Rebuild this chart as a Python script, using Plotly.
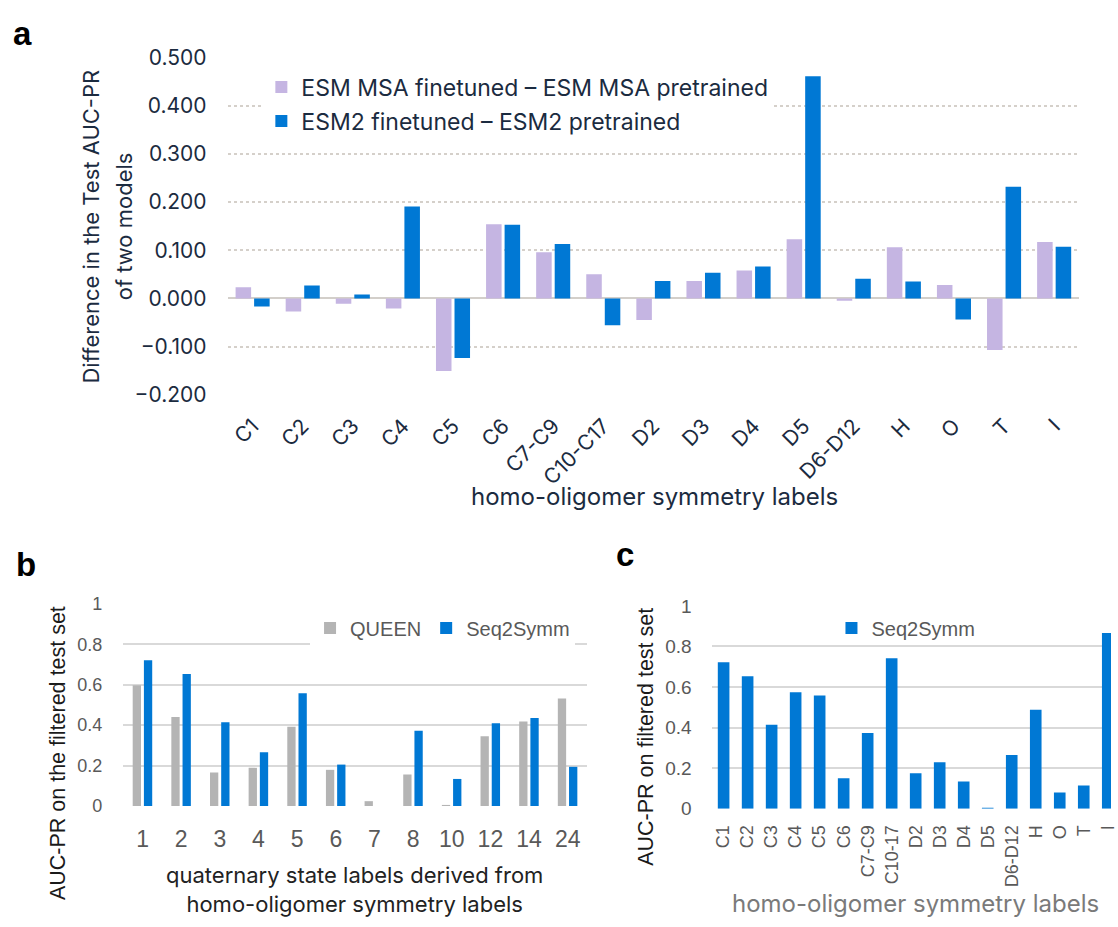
import plotly.graph_objects as go

W, H = 1118, 927

# ---------------- data ----------------
a_labels = ["C1", "C2", "C3", "C4", "C5", "C6", "C7-C9", "C10-C17", "D2", "D3",
            "D4", "D5", "D6-D12", "H", "O", "T", "I"]
a_msa = [0.023, -0.027, -0.011, -0.021, -0.151, 0.154, 0.096, 0.050, -0.045, 0.036,
         0.058, 0.123, -0.005, 0.106, 0.028, -0.107, 0.117]
a_esm2 = [-0.017, 0.027, 0.008, 0.191, -0.124, 0.153, 0.113, -0.056, 0.036, 0.053,
          0.066, 0.461, 0.041, 0.035, -0.044, 0.232, 0.107]
a_yticks = [-0.2, -0.1, 0.0, 0.1, 0.2, 0.3, 0.4, 0.5]

b_labels = ["1", "2", "3", "4", "5", "6", "7", "8", "10", "12", "14", "24"]
b_queen = [0.597, 0.440, 0.166, 0.189, 0.392, 0.179, 0.024, 0.156, 0.005, 0.345, 0.418, 0.532]
b_seq2symm = [0.721, 0.653, 0.415, 0.266, 0.558, 0.205, 0.0, 0.373, 0.134, 0.410, 0.435, 0.194]

c_labels = ["C1", "C2", "C3", "C4", "C5", "C6", "C7-C9", "C10-17", "D2", "D3", "D4",
            "D5", "D6-D12", "H", "O", "T", "I"]
c_seq2symm = [0.722, 0.653, 0.414, 0.574, 0.558, 0.150, 0.373, 0.742, 0.174, 0.229, 0.134,
              0.003, 0.264, 0.488, 0.080, 0.114, 0.866]
bc_yticks = [0, 0.2, 0.4, 0.6, 0.8, 1.0]
bc_yticktext = ["0", "0.2", "0.4", "0.6", "0.8", "1"]

# ---------------- style ----------------
LAV = "#C5B5E2"
BLUE = "#0078D4"
GRAY = "#B4B4B4"
NAVY = "#1B2B40"
TICKGRAY = "#595959"
APTOS = "Inter, 'Open Sans', sans-serif"
ARIAL = "'Liberation Sans', Arial, sans-serif"


def px(x):
    return x / W


def py(y):
    return 1 - y / H


fig = go.Figure()

# panel a
fig.add_trace(go.Bar(x=a_labels, y=a_msa, name="ESM MSA finetuned – ESM MSA pretrained",
                     marker=dict(color=LAV, line=dict(width=0)), width=0.31, offset=-0.34,
                     xaxis="x", yaxis="y", legend="legend", legendgroup="a1"))
fig.add_trace(go.Bar(x=a_labels, y=a_esm2, name="ESM2 finetuned – ESM2 pretrained",
                     marker=dict(color=BLUE, line=dict(width=0)), width=0.31, offset=0.03,
                     xaxis="x", yaxis="y", legend="legend", legendgroup="a2"))

# panel b
fig.add_trace(go.Bar(x=b_labels, y=b_queen, name="QUEEN",
                     marker=dict(color=GRAY, line=dict(width=0)), width=0.215, offset=-0.255,
                     xaxis="x2", yaxis="y2", legend="legend2"))
fig.add_trace(go.Bar(x=b_labels, y=b_seq2symm, name="Seq2Symm",
                     marker=dict(color=BLUE, line=dict(width=0)), width=0.215, offset=0.035,
                     xaxis="x2", yaxis="y2", legend="legend2"))

# panel c
fig.add_trace(go.Bar(x=c_labels, y=c_seq2symm, name="Seq2Symm",
                     marker=dict(color=BLUE, line=dict(width=0)), width=0.484, offset=-0.242,
                     xaxis="x3", yaxis="y3", legend="legend3"))

fig.update_layout(
    width=W, height=H, autosize=False,
    margin=dict(l=0, r=0, t=0, b=0),
    paper_bgcolor="white", plot_bgcolor="white",
    barmode="group",
    font=dict(family=APTOS, color=NAVY),
    xaxis=dict(domain=[px(229), px(1086)], type="category", range=[-0.5, 16.5],
               tickangle=-45, tickfont=dict(family=APTOS, size=21, color=NAVY),
               ticklabelstandoff=14, showgrid=False, zeroline=False, showline=False,
               ticks="", anchor="y"),
    yaxis=dict(domain=[py(392.3), py(45.8)], range=[-0.2, 0.5], tickvals=a_yticks,
               tickformat=".3f", tickfont=dict(family=APTOS, size=21, color=NAVY),
               showgrid=True, gridcolor="#D5D0CA", gridwidth=1.5, griddash="dot",
               zeroline=True, zerolinecolor="#D3CFCA", zerolinewidth=2,
               ticklabelstandoff=20, anchor="x", showline=False),
    xaxis2=dict(domain=[px(124), px(590.7)], type="category", range=[-0.5, 11.5],
                tickfont=dict(family=ARIAL, size=23, color=TICKGRAY),
                ticklabelstandoff=17, showgrid=False, zeroline=False, ticks="",
                anchor="y2"),
    yaxis2=dict(domain=[py(815), py(607.3)], range=[0, 1.0], tickvals=bc_yticks,
                ticktext=bc_yticktext, tickfont=dict(family=ARIAL, size=18, color=TICKGRAY),
                showgrid=True, gridcolor="#D9D9D9", gridwidth=1.5, zeroline=False,
                ticklabelstandoff=20, anchor="x2"),
    xaxis3=dict(domain=[px(716.1), 1.0], type="category", range=[-0.5, 16.135],
                tickangle=-90, tickfont=dict(family=ARIAL, size=18, color=TICKGRAY),
                ticklabelstandoff=12, showgrid=False, zeroline=False, ticks="",
                anchor="y3"),
    yaxis3=dict(domain=[py(817.7), py(609.3)], range=[0, 1.0], tickvals=bc_yticks,
                ticktext=bc_yticktext, tickfont=dict(family=ARIAL, size=19, color=TICKGRAY),
                showgrid=True, gridcolor="#D9D9D9", gridwidth=1.5, zeroline=False,
                ticklabelstandoff=19, anchor="x3"),
    legend=dict(x=px(263), y=py(54), xanchor="left", yanchor="top", bgcolor="white",
                font=dict(family=APTOS, size=23, color=NAVY), traceorder="grouped",
                tracegroupgap=1, borderwidth=0),
    legend2=dict(x=px(312), y=py(632), xanchor="left", yanchor="middle", bgcolor="white",
                 orientation="h", font=dict(family=ARIAL, size=20, color=TICKGRAY),
                 borderwidth=0),
    legend3=dict(x=px(836.7), y=py(632), xanchor="left", yanchor="middle",
                 bgcolor="rgba(255,255,255,0)", orientation="h",
                 font=dict(family=ARIAL, size=20, color=TICKGRAY), borderwidth=0),
)

annotations = [
    # panel letters
    dict(text="<b>a</b>", x=px(11), y=py(21), xanchor="left", yanchor="middle",
         font=dict(family=ARIAL, size=33, color="black")),
    dict(text="<b>b</b>", x=px(14), y=py(567), xanchor="left", yanchor="middle",
         font=dict(family=ARIAL, size=33, color="black")),
    dict(text="<b>c</b>", x=px(618), y=py(557), xanchor="left", yanchor="middle",
         font=dict(family=ARIAL, size=33, color="black")),
    # panel a axis titles
    dict(text="Difference in the Test AUC-PR", x=px(92), y=py(219), textangle=-90,
         xanchor="center", yanchor="middle", font=dict(family=APTOS, size=22, color=NAVY)),
    dict(text="of two models", x=px(125), y=py(219), textangle=-90,
         xanchor="center", yanchor="middle", font=dict(family=APTOS, size=22, color=NAVY)),
    dict(text="homo-oligomer symmetry labels", x=px(659), y=py(497),
         xanchor="center", yanchor="middle", font=dict(family=APTOS, size=24, color=NAVY)),
    # panel b axis titles
    dict(text="AUC-PR on the filtered test set", x=px(59), y=py(761), textangle=-90,
         xanchor="center", yanchor="middle", font=dict(family=ARIAL, size=21.5, color="#1A1A1A")),
    dict(text="quaternary state labels derived from<br>homo-oligomer symmetry labels",
         x=px(357), y=py(901), xanchor="center", yanchor="middle",
         font=dict(family=APTOS, size=22, color="#222222")),
    # panel c axis titles
    dict(text="AUC-PR on filtered test set", x=px(650), y=py(744), textangle=-90,
         xanchor="center", yanchor="middle", font=dict(family=ARIAL, size=21.5, color="#1A1A1A")),
    dict(text="homo-oligomer symmetry labels", x=px(921.5), y=py(915),
         xanchor="center", yanchor="middle", font=dict(family=APTOS, size=24, color="#7A7A7A")),
]
for a in annotations:
    a.update(xref="paper", yref="paper", showarrow=False)
fig.update_layout(annotations=annotations)

fig.write_html("out.html", config={"displayModeBar": False},
               post_script="document.body.style.margin='0px';document.body.style.overflow='hidden';")
